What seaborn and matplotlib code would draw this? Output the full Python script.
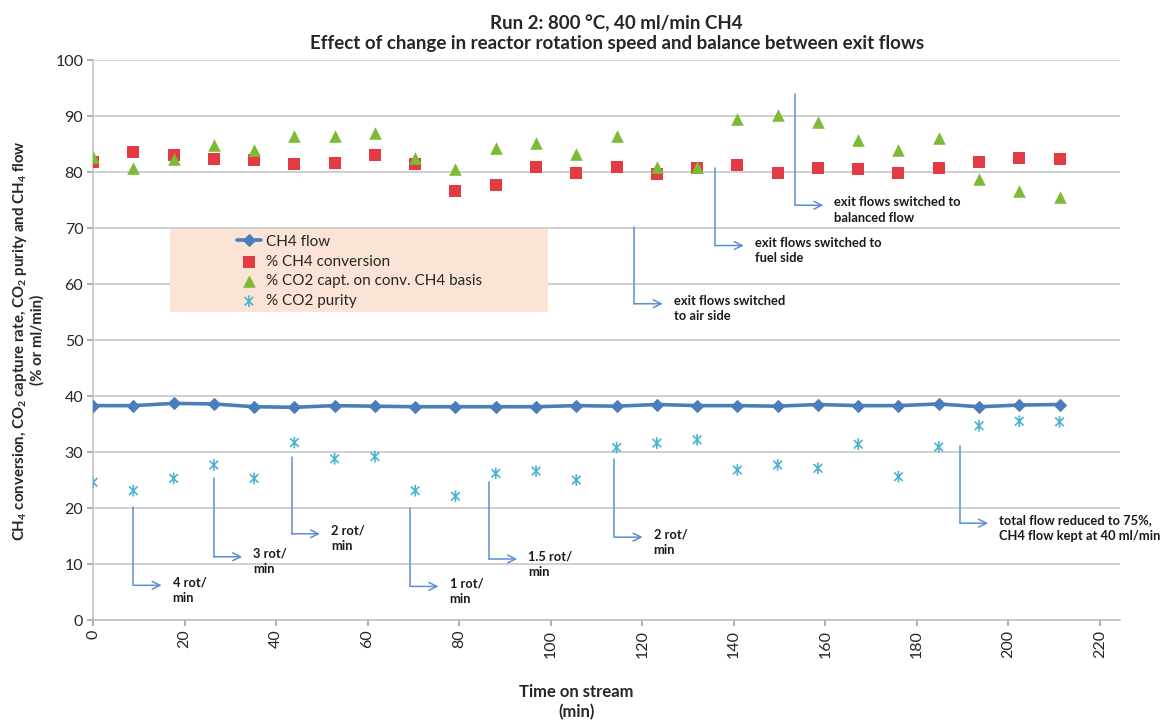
import numpy as np
import pandas as pd
import seaborn as sns
import matplotlib.pyplot as plt
from matplotlib.path import Path
from matplotlib.patches import Rectangle

# Time on stream (min)
time_min = [0.0, 8.8, 17.6, 26.4, 35.2, 44.0, 52.8, 61.6, 70.4, 79.2, 88.0, 96.8,
            105.6, 114.4, 123.2, 132.0, 140.8, 149.6, 158.4, 167.2, 176.0, 184.8,
            193.6, 202.4, 211.2]

# Measured series
ch4_flow = [38.3, 38.3, 38.7, 38.6, 38.1, 38.0, 38.3, 38.2, 38.1, 38.1, 38.1, 38.1,
            38.3, 38.2, 38.5, 38.3, 38.3, 38.2, 38.5, 38.3, 38.3, 38.6, 38.1, 38.4, 38.5]
ch4_conversion = [81.8, 83.6, 83.1, 82.4, 82.1, 81.4, 81.7, 83.1, 81.5, 76.7, 77.7, 81.0,
                  79.9, 81.0, 79.6, 80.7, 81.3, 79.9, 80.8, 80.6, 79.9, 80.8, 81.8, 82.5, 82.3]
co2_capture = [82.8, 80.8, 82.3, 84.9, 84.0, 86.4, 86.4, 87.0, 82.6, 80.5, 84.3, 85.2,
               83.2, 86.4, 80.9, 81.0, 89.5, 90.3, 88.9, 85.8, 83.9, 86.1, 78.8, 76.6, 75.5]
co2_purity = [24.6, 23.1, 25.3, 27.7, 25.3, 31.7, 28.8, 29.2, 23.1, 22.1, 26.2, 26.6,
              25.0, 30.8, 31.6, 32.2, 26.8, 27.7, 27.1, 31.4, 25.6, 30.9, 34.7, 35.5, 35.4]

series_labels = ["CH4 flow", "% CH4 conversion", "% CO2 capt. on conv. CH4 basis", "% CO2 purity"]

# Process events: text, time of change, vertical extent of the call-out line
note_text = ["4 rot/\nmin", "3 rot/\nmin", "2 rot/\nmin", "1 rot/\nmin", "1.5 rot/\nmin",
             "2 rot/\nmin", "total flow reduced to 75%,\nCH4 flow kept at 40 ml/min",
             "exit flows switched\nto air side", "exit flows switched to\nfuel side",
             "exit flows switched to\nbalanced flow"]
note_x = [8.8, 26.4, 43.4, 69.3, 86.5, 113.9, 189.4, 118.3, 136.0, 153.4]
note_top = [20.2, 25.3, 29.1, 20.0, 24.7, 28.7, 31.1, 70.3, 80.7, 93.9]
note_bottom = [6.2, 11.3, 15.4, 6.0, 10.9, 14.8, 17.3, 56.5, 66.9, 74.1]

sns.set_theme(style="white")
plt.rcParams["font.family"] = ["Lato", "DejaVu Sans"]
plt.rcParams["mathtext.fontset"] = "custom"
plt.rcParams["mathtext.bf"] = "Lato:bold"
plt.rcParams["mathtext.rm"] = "Lato"

df = pd.DataFrame({"time": time_min, "flow": ch4_flow, "conv": ch4_conversion,
                   "capt": co2_capture, "purity": co2_purity})

fig, ax = plt.subplots(figsize=(11.63, 7.26), dpi=100)
fig.subplots_adjust(left=0.080, right=0.963, bottom=0.146, top=0.917)

blue = "#4A7EBB"
red = "#E23B44"
green = "#7DBB35"
cyan = "#4BB3CF"
note_color = "#5B8FD0"

# asterisk marker: X plus a vertical stroke
star = Path([(-1, -1), (1, 1), (-1, 1), (1, -1), (0, -1.35), (0, 1.35)],
            [Path.MOVETO, Path.LINETO, Path.MOVETO, Path.LINETO, Path.MOVETO, Path.LINETO])

sns.lineplot(data=df, x="time", y="flow", ax=ax, color=blue, lw=2.6, marker="D",
             markersize=6, markeredgecolor=blue, label=series_labels[0], zorder=4)
sns.scatterplot(data=df, x="time", y="conv", ax=ax, color=red, marker="s", s=78,
                edgecolor=red, linewidth=0, label=series_labels[1], zorder=4)
sns.scatterplot(data=df, x="time", y="capt", ax=ax, color=green, marker="^", s=82,
                edgecolor=green, linewidth=0, label=series_labels[2], zorder=4)
sns.scatterplot(data=df, x="time", y="purity", ax=ax, marker=star, s=70,
                facecolor="none", edgecolor=cyan, linewidth=1.2,
                label=series_labels[3], zorder=4)

ax.set_xlim(0, 224.4)
ax.set_ylim(0, 100)
ax.set_xticks(np.arange(0, 221, 20))
ax.set_yticks(np.arange(0, 101, 10))
ax.tick_params(axis="x", labelrotation=90, labelsize=11.5, length=4, color="#A6A6A6",
               direction="out", bottom=True, pad=3)
ax.tick_params(axis="y", labelsize=11.5, length=4, color="#A6A6A6", direction="out",
               left=True, pad=3)
ax.yaxis.grid(True, color="#C4C4C4", lw=1.1)
ax.xaxis.grid(False)
ax.set_axisbelow(True)
for side in ("top", "right"):
    ax.spines[side].set_visible(False)
for side in ("left", "bottom"):
    ax.spines[side].set_color("#BFBFBF")
    ax.spines[side].set_linewidth(1.1)

ax.set_title("Run 2: 800 °C, 40 ml/min CH4\nEffect of change in reactor rotation speed and balance between exit flows",
             fontsize=13.5, fontweight="bold", x=0.51, pad=8, linespacing=1.2)
ax.set_xlabel("Time on stream\n(min)", fontsize=12, fontweight="bold", linespacing=1.3)
ax.xaxis.set_label_coords(0.471, -0.115)
ax.set_ylabel(r"CH$_\mathbf{4}$ conversion, CO$_\mathbf{2}$ capture rate, CO$_\mathbf{2}$ purity and CH$_\mathbf{4}$ flow" + "\n(% or ml/min)",
              fontsize=10.8, fontweight="bold", linespacing=1.15)
ax.yaxis.set_label_coords(-0.047, 0.5)

# event call-outs
for txt, xv, yt, yb in zip(note_text, note_x, note_top, note_bottom):
    ax.plot([xv, xv], [yt, yb], color=note_color, lw=1.1, zorder=3)
    ax.annotate("", xy=(xv + 6.2, yb), xytext=(xv, yb),
                arrowprops=dict(arrowstyle="->", color=note_color, lw=1.1,
                                shrinkA=0, shrinkB=0, mutation_scale=14), zorder=3)
    ax.text(xv + 8.6, yb + 1.6, txt, fontsize=9.3, fontweight="bold", color="#1A1A1A",
            va="top", ha="left", linespacing=1.35, zorder=3)

# legend on a shaded panel
ax.add_patch(Rectangle((0.075, 0.55), 0.368, 0.148, transform=ax.transAxes,
                       facecolor="#FBE4D5", edgecolor="none", zorder=1.5))
handles, labels = ax.get_legend_handles_labels()
ax.legend(handles, labels, loc="upper left", bbox_to_anchor=(0.128, 0.71),
          frameon=False, fontsize=11, handlelength=1.6, handletextpad=0.3,
          labelspacing=0.38, borderpad=0.3)

fig.savefig("out.png", dpi=100)
